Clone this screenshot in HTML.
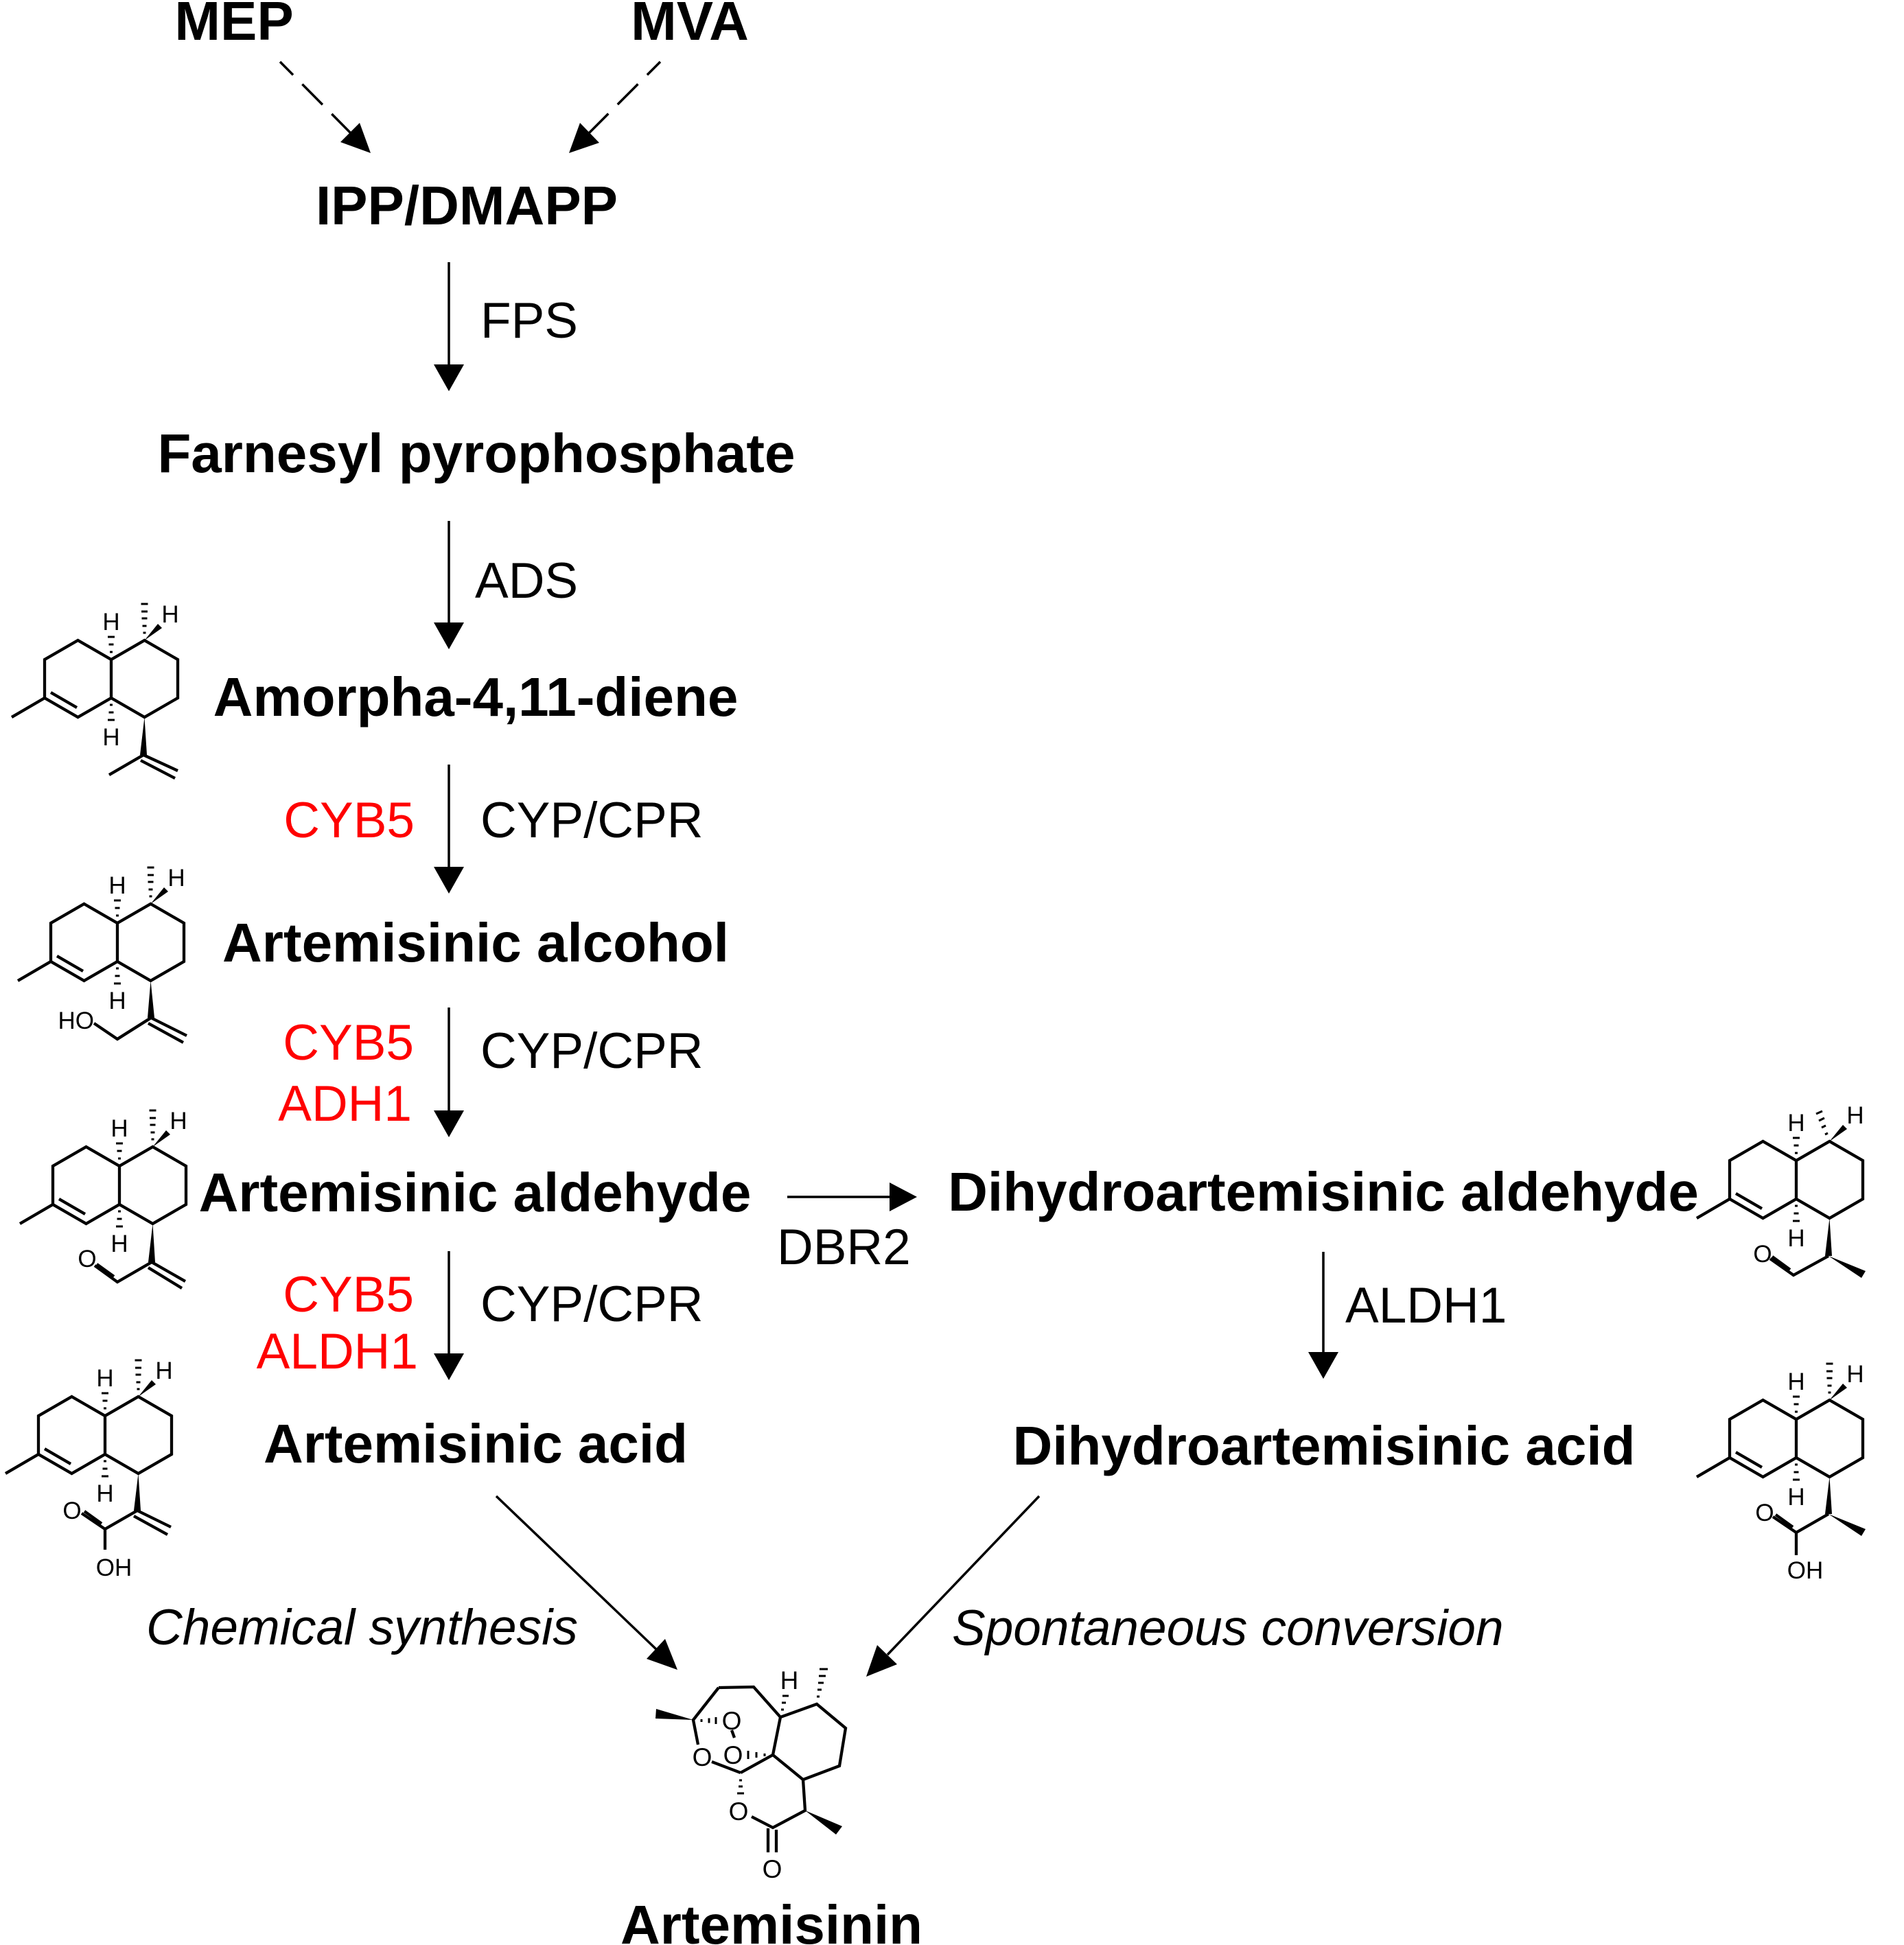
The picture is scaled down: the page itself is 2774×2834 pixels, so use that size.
<!DOCTYPE html>
<html><head><meta charset="utf-8"><style>
html,body{margin:0;padding:0;background:#fff}
svg{display:block}
.b{font-family:"Liberation Sans",Arial,sans-serif;font-weight:bold;font-size:80px;text-anchor:middle}
.r{font-family:"Liberation Sans",Arial,sans-serif;font-size:73px}
.red{fill:#f00;text-anchor:end}
.it{font-style:italic}
.at{font-family:"Liberation Sans",Arial,sans-serif;font-size:35px;text-anchor:middle}
.ao{font-family:"Liberation Sans",Arial,sans-serif;font-size:37px;text-anchor:middle}
.bd{fill:none;stroke:#000;stroke-width:4.3;stroke-linejoin:miter;stroke-linecap:butt}
.hs{fill:none;stroke:#000;stroke-width:3}
.ar{fill:none;stroke:#000;stroke-width:3.5}
</style></head><body>
<svg width="2774" height="2834" viewBox="0 0 2774 2834" xmlns="http://www.w3.org/2000/svg">
<rect width="2774" height="2834" fill="#fff"/>

<!-- Top labels -->
<text class="b" x="341" y="58">MEP</text>
<text class="b" x="1005" y="58">MVA</text>
<path class="ar" d="M408,90 L511,194" stroke-dasharray="42 19" stroke-dashoffset="15"/>
<polygon points="540,223 496,207 524,179"/>
<path class="ar" d="M962,90 L858,194" stroke-dasharray="42 19" stroke-dashoffset="15"/>
<polygon points="829,223 873,208 845,179"/>
<text class="b" x="680" y="327">IPP/DMAPP</text>

<!-- FPS -->
<path class="ar" d="M654,382 V533"/>
<polygon points="632,531 676,531 654,570"/>
<text class="r" x="700" y="492">FPS</text>
<text class="b" x="694" y="688">Farnesyl pyrophosphate</text>

<!-- ADS -->
<path class="ar" d="M654,759 V910"/>
<polygon points="632,907 676,907 654,946"/>
<text class="r" x="692" y="871">ADS</text>
<text class="b" x="693" y="1043">Amorpha-4,11-diene</text>

<!-- step 3 -->
<path class="ar" d="M654,1114 V1266"/>
<polygon points="632,1263 676,1263 654,1302"/>
<text class="r red" x="604" y="1220">CYB5</text>
<text class="r" x="700" y="1220">CYP/CPR</text>
<text class="b" x="693" y="1401">Artemisinic alcohol</text>

<!-- step 4 -->
<path class="ar" d="M654,1468 V1621"/>
<polygon points="632,1618 676,1618 654,1657"/>
<text class="r red" x="603" y="1544">CYB5</text>
<text class="r red" x="600" y="1633">ADH1</text>
<text class="r" x="700" y="1556">CYP/CPR</text>
<text class="b" x="692" y="1765">Artemisinic aldehyde</text>

<!-- DBR2 -->
<path class="ar" d="M1147,1744 H1299"/>
<polygon points="1296,1723 1296,1765 1336,1744"/>
<text class="r" x="1132" y="1842">DBR2</text>
<text class="b" x="1928" y="1764">Dihydroartemisinic aldehyde</text>

<!-- step 5 -->
<path class="ar" d="M654,1823 V1975"/>
<polygon points="632,1972 676,1972 654,2011"/>
<text class="r red" x="603" y="1911">CYB5</text>
<text class="r red" x="609" y="1994">ALDH1</text>
<text class="r" x="700" y="1925">CYP/CPR</text>
<text class="b" x="693" y="2131">Artemisinic acid</text>

<!-- right ALDH1 -->
<path class="ar" d="M1928,1824 V1973"/>
<polygon points="1906,1970 1950,1970 1928,2009"/>
<text class="r" x="1960" y="1927">ALDH1</text>
<text class="b" x="1929" y="2134">Dihydroartemisinic acid</text>

<!-- converging arrows -->
<path class="ar" d="M723,2180 L956,2403"/>
<polygon points="987,2433 942,2417 969,2388"/>
<text class="r it" x="213" y="2396">Chemical synthesis</text>
<path class="ar" d="M1514,2180 L1293,2411"/>
<polygon points="1262,2443 1307,2425 1278,2397"/>
<text class="r it" x="1387" y="2397">Spontaneous conversion</text>

<text class="b" x="1124" y="2832">Artemisinin</text>

<!-- ===== Molecule 1: Amorpha-4,11-diene ===== -->
<g transform="translate(162,989)">
<path class="bd" d="M-97,-28 L-48.5,-56 L0,-28 L0,28 L-48.5,56 L-97,28 Z M0,-28 L48.5,-56 L97,-28 L97,28 L48.5,56 L0,28 M-97,28 L-145,56 M-88,20 L-50,42"/>
<path class="hs" d="M-2,-39 H2 M-3.5,-50 H3.5 M-5,-61 H5 M-2,38 H2 M-3.5,49 H3.5 M-5,60 H5 M46.5,-67 H50.5 M45.5,-77 H51.5 M44.5,-88 H52.5 M44,-98 H53 M43.5,-109 H53.5"/>
<polygon points="48.5,-56 74,-74 68,-80"/>
<polygon points="48.5,56 42,111 52,111"/>
<text class="at" x="0" y="-71">H</text><text class="at" x="86" y="-82">H</text><text class="at" x="0" y="97">H</text>
<path class="bd" d="M47,111 L-3,140 M47,111 L97,134 M43,119 L93,145"/>
</g>

<!-- ===== Molecule 2: Artemisinic alcohol ===== -->
<g transform="translate(171,1373)">
<path class="bd" d="M-97,-28 L-48.5,-56 L0,-28 L0,28 L-48.5,56 L-97,28 Z M0,-28 L48.5,-56 L97,-28 L97,28 L48.5,56 L0,28 M-97,28 L-145,56 M-88,20 L-50,42"/>
<path class="hs" d="M-2,-39 H2 M-3.5,-50 H3.5 M-5,-61 H5 M-2,38 H2 M-3.5,49 H3.5 M-5,60 H5 M46.5,-67 H50.5 M45.5,-77 H51.5 M44.5,-88 H52.5 M44,-98 H53 M43.5,-109 H53.5"/>
<polygon points="48.5,-56 74,-74 68,-80"/>
<polygon points="48.5,56 44,110 54,110"/>
<text class="at" x="0" y="-71">H</text><text class="at" x="86" y="-82">H</text><text class="at" x="0" y="97">H</text>
<path class="bd" d="M49,110 L0,141 L-34,118 M49,110 L101,136 M45,118 L96,146"/>
<text class="at" x="-34" y="126" style="text-anchor:end">HO</text>
</g>

<!-- ===== Molecule 3: Artemisinic aldehyde ===== -->
<g transform="translate(174,1727)">
<path class="bd" d="M-97,-28 L-48.5,-56 L0,-28 L0,28 L-48.5,56 L-97,28 Z M0,-28 L48.5,-56 L97,-28 L97,28 L48.5,56 L0,28 M-97,28 L-145,56 M-88,20 L-50,42"/>
<path class="hs" d="M-2,-39 H2 M-3.5,-50 H3.5 M-5,-61 H5 M-2,38 H2 M-3.5,49 H3.5 M-5,60 H5 M46.5,-67 H50.5 M45.5,-77 H51.5 M44.5,-88 H52.5 M44,-98 H53 M43.5,-109 H53.5"/>
<polygon points="48.5,-56 74,-74 68,-80"/>
<polygon points="48.5,56 42,112 52,112"/>
<text class="at" x="0" y="-71">H</text><text class="at" x="86" y="-82">H</text><text class="at" x="0" y="97">H</text>
<path class="bd" d="M47,112 L-3,141 L-36,117 M-8,133 L-33,115 M47,112 L96,140 M42,120 L91,150"/>
<text class="at" x="-47" y="119">O</text>
</g>

<!-- ===== Molecule 4: Artemisinic acid ===== -->
<g transform="translate(153,2091)">
<path class="bd" d="M-97,-28 L-48.5,-56 L0,-28 L0,28 L-48.5,56 L-97,28 Z M0,-28 L48.5,-56 L97,-28 L97,28 L48.5,56 L0,28 M-97,28 L-145,56 M-88,20 L-50,42"/>
<path class="hs" d="M-2,-39 H2 M-3.5,-50 H3.5 M-5,-61 H5 M-2,38 H2 M-3.5,49 H3.5 M-5,60 H5 M46.5,-67 H50.5 M45.5,-77 H51.5 M44.5,-88 H52.5 M44,-98 H53 M43.5,-109 H53.5"/>
<polygon points="48.5,56 42,110 52,110"/>
<polygon points="48.5,-56 74,-74 68,-80"/>
<text class="at" x="0" y="-71">H</text><text class="at" x="86" y="-82">H</text><text class="at" x="0" y="97">H</text>
<path class="bd" d="M47,110 L0,137 L-34,114 M-5,129 L-30,111 M0,137 L0,167 M47,110 L96,134 M42,118 L91,145"/>
<text class="at" x="-48" y="122">O</text>
<text class="at" x="13" y="205">OH</text>
</g>

<!-- ===== Molecule 5: Dihydroartemisinic aldehyde ===== -->
<g transform="translate(2617,1719)">
<path class="bd" d="M-97,-28 L-48.5,-56 L0,-28 L0,28 L-48.5,56 L-97,28 Z M0,-28 L48.5,-56 L97,-28 L97,28 L48.5,56 L0,28 M-97,28 L-145,56 M-88,20 L-50,42"/>
<path class="hs" d="M-2,-39 H2 M-3.5,-50 H3.5 M-5,-61 H5 M-2,38 H2 M-3.5,49 H3.5 M-5,60 H5 M42,-66 L46,-68 M37,-76 L43,-79 M33,-86 L41,-90 M29,-96 L38,-100"/>
<polygon points="48.5,-56 74,-74 68,-80"/>
<polygon points="48.5,56 42,111 52,111"/>
<text class="at" x="0" y="-71">H</text><text class="at" x="86" y="-82">H</text><text class="at" x="0" y="97">H</text>
<path class="bd" d="M47,111 L-4,139 L-38,115 M-9,131 L-35,112"/>
<polygon points="47,111 95,143 101,133"/>
<text class="at" x="-49" y="120">O</text>
</g>

<!-- ===== Molecule 6: Dihydroartemisinic acid ===== -->
<g transform="translate(2617,2096)">
<path class="bd" d="M-97,-28 L-48.5,-56 L0,-28 L0,28 L-48.5,56 L-97,28 Z M0,-28 L48.5,-56 L97,-28 L97,28 L48.5,56 L0,28 M-97,28 L-145,56 M-88,20 L-50,42"/>
<path class="hs" d="M-2,-39 H2 M-3.5,-50 H3.5 M-5,-61 H5 M-2,38 H2 M-3.5,49 H3.5 M-5,60 H5 M46.5,-67 H50.5 M45.5,-77 H51.5 M44.5,-88 H52.5 M44,-98 H53 M43.5,-109 H53.5"/>
<polygon points="48.5,-56 74,-74 68,-80"/>
<polygon points="48.5,56 42,110 52,110"/>
<text class="at" x="0" y="-71">H</text><text class="at" x="86" y="-82">H</text><text class="at" x="0" y="97">H</text>
<path class="bd" d="M47,110 L0,137 L-34,114 M-5,129 L-30,111 M0,137 L0,170"/>
<polygon points="47,110 95,142 101,132"/>
<text class="at" x="-46" y="120">O</text>
<text class="at" x="13" y="204">OH</text>
</g>

<!-- ===== Artemisinin ===== -->
<g>
<path class="bd" d="M1047,2459 L1098,2458 L1137,2502 L1126,2557 L1079,2583 M1047,2459 L1010,2506 L1017,2542 M1037,2567 L1079,2583 M1137,2502 L1190,2483 L1232,2518 L1223,2573 L1170,2593 L1126,2557 M1170,2593 L1173,2638 L1126,2663 L1095,2647 M1119,2664 L1119,2699 M1131,2666 L1131,2699 M1066,2521 L1070,2532"/>
<polygon points="1173,2638 1218,2673 1227,2661"/>
<polygon points="1010,2506 956,2490 955,2504"/>
<path class="hs" d="M1022,2505 V2509 M1033,2503.5 V2510.5 M1043,2502 V2512 M1090,2551 V2563 M1102,2553 V2561 M1114,2555 V2559 M1138,2491 H1142 M1139,2481 H1145 M1140,2471 H1149 M1190,2472 H1194 M1191,2462 H1197 M1192,2452 H1200 M1193,2442 H1203 M1194,2432 H1206 M1077,2594 H1081 M1076,2603 H1082 M1074,2613 H1084"/>
<text class="ao" x="1150" y="2461">H</text>
<text class="ao" x="1023" y="2573">O</text>
<text class="ao" x="1066" y="2520">O</text>
<text class="ao" x="1068" y="2570">O</text>
<text class="ao" x="1076" y="2652">O</text>
<text class="ao" x="1125" y="2736">O</text>
</g>
</svg>
</body></html>
